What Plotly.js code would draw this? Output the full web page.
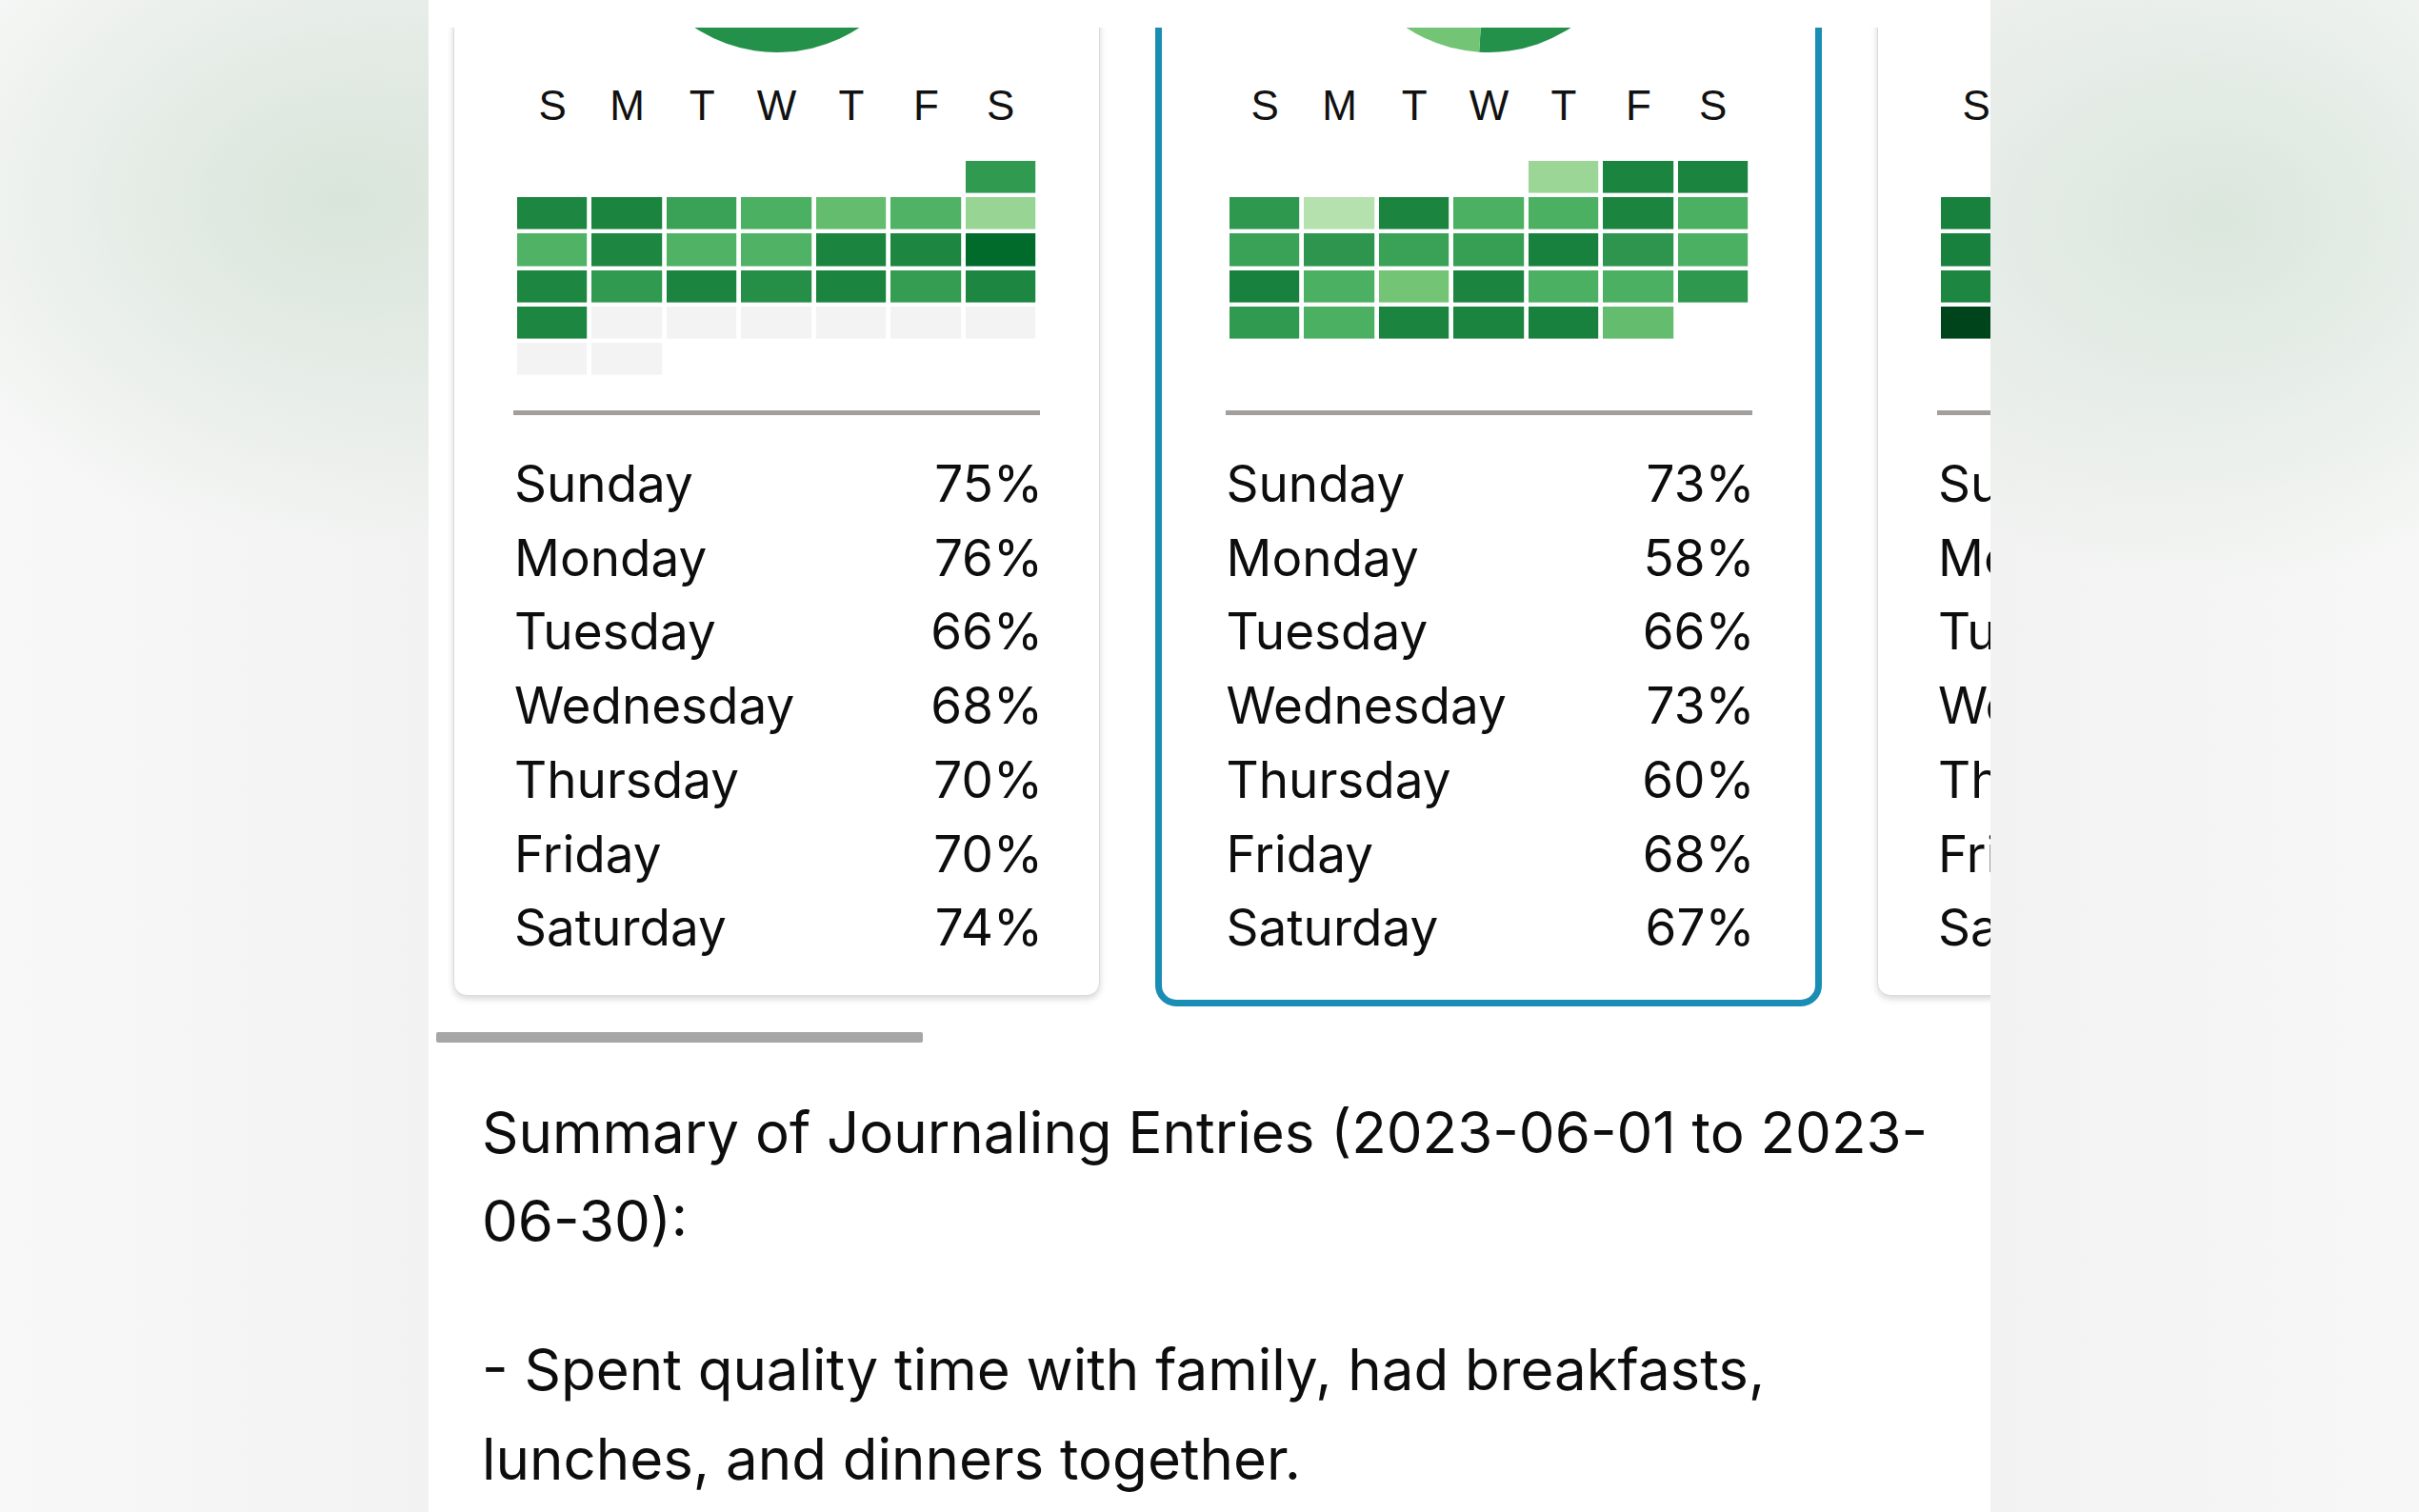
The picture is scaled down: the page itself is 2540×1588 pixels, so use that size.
<!DOCTYPE html>
<html>
<head>
<meta charset="utf-8">
<script src="https://cdn.plot.ly/plotly-3.0.1.min.js"></script>
<style>
  html, body { margin:0; padding:0; width:2540px; height:1588px; overflow:hidden; }
  body {
    position:relative;
    background:
      radial-gradient(ellipse 520px 360px at 360px 210px, rgba(210,225,212,0.8), rgba(210,225,212,0) 100%),
      radial-gradient(ellipse 480px 380px at 2330px 230px, rgba(210,225,213,0.75), rgba(210,225,213,0) 100%),
      linear-gradient(90deg, #f8f8f8 0px, #f1f2f1 450px, #f1f2f1 2090px, #f6f7f6 2540px);
  }
  #page { position:absolute; left:450px; top:0; width:1640px; height:1588px; background:#fff; overflow:hidden; }
  #clip { position:absolute; left:0; top:29px; width:1640px; height:1045px; overflow:hidden; }
  .card { position:absolute; box-sizing:border-box; background:#fff; }
  .card.plain { border:1px solid #dcdcdc; border-radius:14px; box-shadow:0 3px 7px rgba(0,0,0,0.16); }
  .card.sel { border:7px solid #1a8db4; border-radius:22px; }
  .plot { position:absolute; }
  .sep { position:absolute; height:5px; background:#a29f9c; }
  .row { position:absolute; height:78px; line-height:78px; font-family:Inter, "Noto Sans", sans-serif; font-size:53px; color:#0d0d0d; white-space:nowrap; }
  .row .v { position:absolute; right:0; top:0; }
  #scrollbar { position:absolute; left:8px; top:1084px; width:511px; height:11px; background:#a6a6a6; border-radius:2px; }
  .txt { position:absolute; left:56px; font-family:Inter, "Noto Sans", sans-serif; font-size:60px; line-height:94px; height:94px; color:#0d0d0d; white-space:nowrap; }
</style>
</head>
<body>
<div id="page">
  <div id="clip"></div>
  <div id="scrollbar"></div>
</div>
<script>
// ---------------- DATA ----------------
const dayLetters = ['S', 'M', 'T', 'W', 'T', 'F', 'S'];
const dayNames = ['Sunday', 'Monday', 'Tuesday', 'Wednesday', 'Thursday', 'Friday', 'Saturday'];

// July 2023 (1st is a Saturday). Daily scores for July 1..23; days 24..31 have no entry.
const julyStartWeekday = 6;
const julyDayCount = 31;
const julyScores = [69,
  77, 78, 66, 60, 54, 59, 40,
  59, 77, 59, 59, 78, 77, 88,
  77, 69, 78, 74, 78, 68, 77,
  77];
const julyWeekdayPct = [75, 76, 66, 68, 70, 70, 74];
const julyPie = [74, 26];

// June 2023 (1st is a Thursday). Daily scores for June 1..30.
const juneStartWeekday = 4;
const juneDayCount = 30;
const juneScores = [39, 78, 78,
  70, 31, 78, 60, 60, 78, 60,
  66, 71, 66, 67, 79, 71, 60,
  79, 60, 50, 78, 60, 60, 70,
  69, 60, 78, 78, 79, 54];
const juneWeekdayPct = [73, 58, 66, 73, 60, 68, 67];
const junePie = [51, 49];

// May 2023 (1st is a Monday). Only the Sunday column is visible (May 7, 14, 21, 28).
const mayStartWeekday = 1;
const mayDayCount = 31;
const maySundayScores = {7: 79, 14: 79, 21: 77, 28: 100};
const mayVisibleLetters = 1; // only the first weekday letter of this card is on screen

const pieLabels = ['Journaled', 'Other'];
const pieColors = ['#24914a', '#74c476'];

const summaryLines = [
  'Summary of Journaling Entries (2023-06-01 to 2023-',
  '06-30):',
  '- Spent quality time with family, had breakfasts,',
  'lunches, and dinners together.'
];

// ---------------- STYLE / LAYOUT ----------------
const greens = [[0, '#f7fcf5'], [0.125, '#e5f5e0'], [0.25, '#c7e9c0'], [0.375, '#a1d99b'],
  [0.5, '#74c476'], [0.625, '#41ab5d'], [0.75, '#238b45'], [0.875, '#006d2c'], [1, '#00441b']];
const PAGE_X = 450, CLIP_Y = 29;
const cards = [
  {center: 815.5, cls: 'plain', left: 476, width: 679, bottom: 1046,
   start: julyStartWeekday, n: julyDayCount, scores: julyScores, pct: julyWeekdayPct, pie: julyPie, letters: 7},
  {center: 1563, cls: 'sel', left: 1213, width: 700, bottom: 1057,
   start: juneStartWeekday, n: juneDayCount, scores: juneScores, pct: juneWeekdayPct, pie: junePie, letters: 7},
  {center: 2310.5, cls: 'plain', left: 1971, width: 679, bottom: 1046,
   start: mayStartWeekday, n: mayDayCount, scoreMap: maySundayScores, pct: null, pie: null, letters: mayVisibleLetters}
];

function buildGrid(card) {
  const zS = [], zM = [];
  for (let r = 0; r < 6; r++) { zS.push(new Array(7).fill(null)); zM.push(new Array(7).fill(null)); }
  for (let d = 1; d <= card.n; d++) {
    const idx = card.start + d - 1, r = Math.floor(idx / 7), c = idx % 7;
    if (card.scoreMap) {
      if (card.scoreMap[d] !== undefined) zS[r][c] = card.scoreMap[d];
    } else if (d <= card.scores.length) {
      zS[r][c] = card.scores[d - 1];
    } else {
      zM[r][c] = 1;
    }
  }
  return {zS, zM};
}

const clip = document.getElementById('clip');
const cfg = {staticPlot: true, displayModeBar: false};

cards.forEach((card, k) => {
  // card frame
  const cd = document.createElement('div');
  cd.className = 'card ' + card.cls;
  cd.style.left = (card.left - PAGE_X) + 'px';
  cd.style.width = card.width + 'px';
  cd.style.top = '-300px';
  cd.style.height = (card.bottom - CLIP_Y + 300) + 'px';
  clip.appendChild(cd);

  // pie (only its lower part is visible)
  if (card.pie) {
    const pd = document.createElement('div');
    pd.className = 'plot';
    const R = 157;
    pd.style.left = (card.center - R - PAGE_X) + 'px';
    pd.style.top = (-102 - R - CLIP_Y) + 'px';
    pd.style.width = (2 * R) + 'px'; pd.style.height = (2 * R) + 'px';
    clip.appendChild(pd);
    Plotly.newPlot(pd, [{
      type: 'pie', values: card.pie, labels: pieLabels, sort: false, direction: 'clockwise', rotation: 0,
      marker: {colors: pieColors, line: {width: 0}}, textinfo: 'none', hoverinfo: 'none', showlegend: false
    }], {width: 2 * R, height: 2 * R, margin: {l: 0, r: 0, t: 0, b: 0, pad: 0},
      paper_bgcolor: 'rgba(0,0,0,0)', showlegend: false}, cfg);
  }

  // heatmap calendar
  const g = buildGrid(card);
  const hd = document.createElement('div');
  hd.className = 'plot';
  const HW = 549, HT = 60, HB = 396, TOPM = 107;
  hd.style.left = (card.center - HW / 2 - PAGE_X) + 'px';
  hd.style.top = (HT - CLIP_Y) + 'px';
  hd.style.width = HW + 'px'; hd.style.height = (HB - HT) + 'px';
  clip.appendChild(hd);
  const xs = [0, 1, 2, 3, 4, 5, 6], ys = [0, 1, 2, 3, 4, 5];
  Plotly.newPlot(hd, [
    {type: 'heatmap', x: xs, y: ys, z: g.zM, colorscale: [[0, '#f3f3f3'], [1, '#f3f3f3']],
     showscale: false, xgap: 4.8, ygap: 4.4, hoverinfo: 'skip'},
    {type: 'heatmap', x: xs, y: ys, z: g.zS, colorscale: greens, zmin: 0, zmax: 100,
     showscale: false, xgap: 4.8, ygap: 4.4, hoverinfo: 'skip'}
  ], {
    width: HW, height: HB - HT, margin: {l: 0, r: 0, t: TOPM, b: 0, pad: 0},
    paper_bgcolor: 'rgba(0,0,0,0)', plot_bgcolor: 'rgba(0,0,0,0)',
    xaxis: {range: [-0.5, 6.5], side: 'top', tickmode: 'array',
      tickvals: xs.slice(0, card.letters), ticktext: dayLetters.slice(0, card.letters),
      tickfont: {family: 'Liberation Sans, Arial, sans-serif', size: 44, color: '#111'},
      ticks: '', showgrid: false, zeroline: false, showline: false, ticklabelstandoff: 31},
    yaxis: {range: [5.5, -0.5], showticklabels: false, showgrid: false, zeroline: false, ticks: ''},
    showlegend: false
  }, cfg);

  // separator
  const sp = document.createElement('div');
  sp.className = 'sep';
  sp.style.left = (card.center - 276.5 - PAGE_X) + 'px';
  sp.style.width = '553px';
  sp.style.top = (431 - CLIP_Y) + 'px';
  clip.appendChild(sp);

  // weekday percentages
  dayNames.forEach((name, i) => {
    const rw = document.createElement('div');
    rw.className = 'row';
    rw.style.left = (card.center - 275.5 - PAGE_X) + 'px';
    rw.style.width = '555px';
    rw.style.top = (527 + 77.7 * i - 58 - CLIP_Y) + 'px';
    rw.textContent = name;
    if (card.pct) {
      const v = document.createElement('span');
      v.className = 'v';
      v.textContent = card.pct[i] + '%';
      rw.appendChild(v);
    }
    clip.appendChild(rw);
  });
});

// summary text
const page = document.getElementById('page');
const baselines = [1211, 1304, 1460, 1554];
summaryLines.forEach((t, i) => {
  const d = document.createElement('div');
  d.className = 'txt';
  d.style.top = (baselines[i] - 69) + 'px';
  d.textContent = t;
  page.appendChild(d);
});
</script>
</body>
</html>
